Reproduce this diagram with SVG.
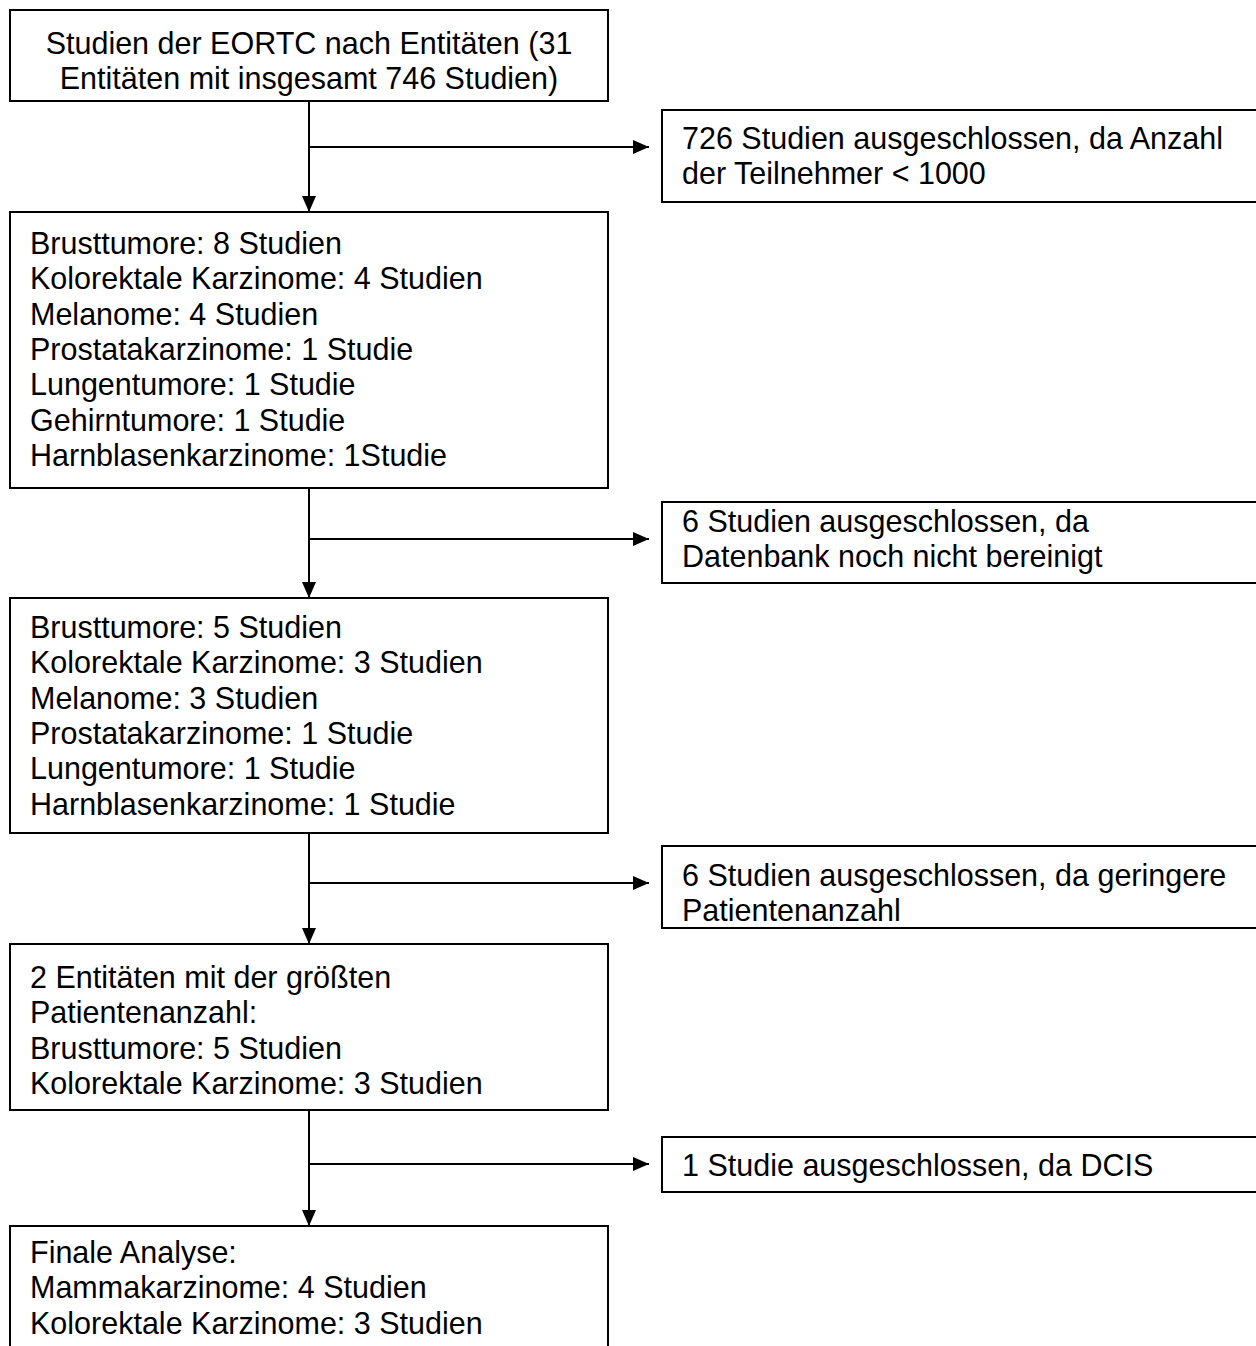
<svg xmlns="http://www.w3.org/2000/svg" width="1256" height="1346" viewBox="0 0 1256 1346">
<style>
.box{fill:#fff;stroke:#000;stroke-width:2}
.t{font-family:"Liberation Sans",Arial,sans-serif;font-size:30.5px;fill:#000}
.c{text-anchor:middle}
.ln{fill:none;stroke:#000;stroke-width:2}
</style>
<defs>
<marker id="ah" markerUnits="userSpaceOnUse" markerWidth="18" markerHeight="16" refX="16" refY="7" orient="auto">
<path d="M0,0 L16,7 L0,14 z" fill="#000"/>
</marker>
</defs>
<rect width="1256" height="1346" fill="#fff"/>
<g id="connectors">
<line class="ln" x1="309" y1="101" x2="309" y2="212" marker-end="url(#ah)"/>
<line class="ln" x1="309" y1="147" x2="649" y2="147" marker-end="url(#ah)"/>
<line class="ln" x1="309" y1="488" x2="309" y2="598" marker-end="url(#ah)"/>
<line class="ln" x1="309" y1="539" x2="649" y2="539" marker-end="url(#ah)"/>
<line class="ln" x1="309" y1="833" x2="309" y2="944" marker-end="url(#ah)"/>
<line class="ln" x1="309" y1="883" x2="649" y2="883" marker-end="url(#ah)"/>
<line class="ln" x1="309" y1="1110" x2="309" y2="1226" marker-end="url(#ah)"/>
<line class="ln" x1="309" y1="1164" x2="649" y2="1164" marker-end="url(#ah)"/>
</g>
<g id="n1">
<rect class="box" x="10" y="10" width="598" height="91"/>
<text class="t c" x="309" y="53.5">Studien der EORTC nach Entitäten (31</text>
<text class="t c" x="309" y="88.5">Entitäten mit insgesamt 746 Studien)</text>
</g>
<g id="x1">
<rect class="box" x="662" y="110" width="640" height="92"/>
<text class="t" x="682" y="149">726 Studien ausgeschlossen, da Anzahl</text>
<text class="t" x="682" y="184">der Teilnehmer &lt; 1000</text>
</g>
<g id="n2">
<rect class="box" x="10" y="212" width="598" height="276"/>
<text class="t" x="30" y="254">Brusttumore: 8 Studien</text>
<text class="t" x="30" y="289.3">Kolorektale Karzinome: 4 Studien</text>
<text class="t" x="30" y="324.6">Melanome: 4 Studien</text>
<text class="t" x="30" y="359.9">Prostatakarzinome: 1 Studie</text>
<text class="t" x="30" y="395.2">Lungentumore: 1 Studie</text>
<text class="t" x="30" y="430.5">Gehirntumore: 1 Studie</text>
<text class="t" x="30" y="465.8">Harnblasenkarzinome: 1Studie</text>
</g>
<g id="x2">
<rect class="box" x="662" y="502" width="640" height="81"/>
<text class="t" x="682" y="532">6 Studien ausgeschlossen, da</text>
<text class="t" x="682" y="567">Datenbank noch nicht bereinigt</text>
</g>
<g id="n3">
<rect class="box" x="10" y="598" width="598" height="235"/>
<text class="t" x="30" y="638">Brusttumore: 5 Studien</text>
<text class="t" x="30" y="673.3">Kolorektale Karzinome: 3 Studien</text>
<text class="t" x="30" y="708.6">Melanome: 3 Studien</text>
<text class="t" x="30" y="743.9">Prostatakarzinome: 1 Studie</text>
<text class="t" x="30" y="779.2">Lungentumore: 1 Studie</text>
<text class="t" x="30" y="814.5">Harnblasenkarzinome: 1 Studie</text>
</g>
<g id="x3">
<rect class="box" x="662" y="846" width="640" height="82"/>
<text class="t" x="682" y="886">6 Studien ausgeschlossen, da geringere</text>
<text class="t" x="682" y="921">Patientenanzahl</text>
</g>
<g id="n4">
<rect class="box" x="10" y="944" width="598" height="166"/>
<text class="t" x="30" y="988">2 Entitäten mit der größten</text>
<text class="t" x="30" y="1023.3">Patientenanzahl:</text>
<text class="t" x="30" y="1058.6">Brusttumore: 5 Studien</text>
<text class="t" x="30" y="1093.9">Kolorektale Karzinome: 3 Studien</text>
</g>
<g id="x4">
<rect class="box" x="662" y="1137" width="640" height="55"/>
<text class="t" x="682" y="1176">1 Studie ausgeschlossen, da DCIS</text>
</g>
<g id="n5">
<rect class="box" x="10" y="1226" width="598" height="160"/>
<text class="t" x="30" y="1263">Finale Analyse:</text>
<text class="t" x="30" y="1298.3">Mammakarzinome: 4 Studien</text>
<text class="t" x="30" y="1333.6">Kolorektale Karzinome: 3 Studien</text>
</g>
</svg>
